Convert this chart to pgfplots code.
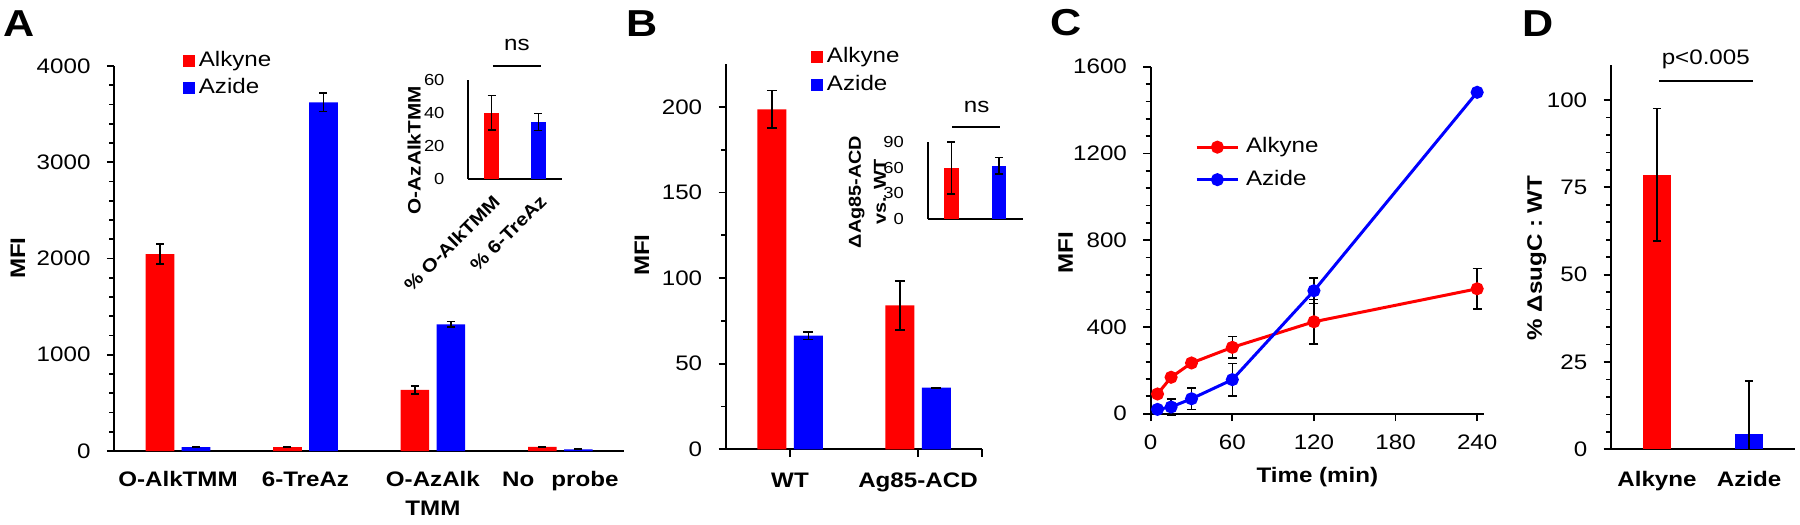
\documentclass[border=0pt]{standalone}
\usepackage{fontspec}
\setmainfont{Liberation Sans}[FakeStretch=1.15]
\usepackage{pgfplots}
\pgfplotsset{compat=1.18}

\definecolor{myred}{RGB}{255,0,0}
\definecolor{myblue}{RGB}{0,0,255}

\newcommand{\fs}{\fontsize{8.4}{10}\selectfont}
\newcommand{\fsi}{\fontsize{6.4}{8}\selectfont}

\pgfplotsset{
  base/.style={
    scale only axis,
    axis x line*=bottom, axis y line*=left,
    axis line style={line width=0.7pt, black},
    tick style={black, line width=0.7pt},
    tick align=outside,
    major tick length=3pt, minor tick length=2pt,
    /pgf/number format/assume math mode=true,
    /pgf/number format/1000 sep={},
    scaled ticks=false,
    tick label style={font=\fs},
    yticklabel style={xshift=-3pt},
    clip=false,
    legend cell align=left,
  },
  inset/.style={
    tick style={draw=none},
    yticklabel style={font=\fsi, xshift=0pt},
    xtick=\empty,
  },
  barleg/.style={
    legend image code/.code={\fill[##1] (0pt,-2.4pt) rectangle (4.8pt,2.4pt);},
    legend style={draw=none, fill=none, inner sep=0pt, outer sep=0pt, font=\fs,
      row sep=0pt, anchor=north west,
      nodes={inner sep=1.5pt, text height=6.2pt, text depth=1.8pt}},
  },
  lineleg/.style={
    legend image code/.code={\draw[mark repeat=2,mark phase=2,##1] plot coordinates {(0pt,0pt) (8.35pt,0pt) (16.7pt,0pt)};},
    legend style={draw=none, fill=none, inner sep=0pt, outer sep=0pt, font=\fs,
      anchor=north west,
      nodes={inner sep=2.5pt, text height=6.2pt, text depth=1.8pt}},
  },
  errb/.style={error bars/.cd, y dir=both, y explicit,
    error bar style={draw=black, line width=0.6pt},
    error mark options={rotate=90, draw=black, mark size=#1, line width=0.6pt}},
}

\begin{document}
\begin{tikzpicture}
\path[use as bounding box] (0pt,0pt) rectangle (720pt,-209.6pt);

% ---------------- Panel A ----------------
\begin{axis}[base,
  at={(45.72pt,-180.4pt)}, anchor=south west,
  width=203.9pt, height=154pt,
  ybar=2.96pt, bar width=11.44pt,
  xmin=-0.5, xmax=3.5, ymin=0, ymax=4000,
  ytick={0,1000,2000,3000,4000}, minor y tick num=4,
  xtick={0,1,2,3},
  xticklabels={O-AlkTMM,6-TreAz,{O-AzAlk\\TMM},No\hspace{6.8pt}probe},
  major x tick style={draw=none},
  xticklabel style={font=\bfseries\fontsize{8.4}{11.6}\selectfont, align=center, anchor=north, yshift=-1.6pt},
  ylabel={MFI}, ylabel style={font=\bfseries\fs, at={(axis description cs:-0.189,0.501)}, anchor=center},
  barleg,
  legend style={at={(axis description cs:0.135,1.05)}},
]
\addplot[fill=myred, draw=none, errb=1.6pt]
  coordinates {(0,2045) +- (0,104) (1,40) +- (0,5) (2,634) +- (0,43) (3,42) +- (0,5)};
\addplot[fill=myblue, draw=none, errb=1.6pt]
  coordinates {(0,40) +- (0,5) (1,3623) +- (0,98) (2,1316) +- (0,30) (3,18) +- (0,4)};
\legend{Alkyne,Azide}
\end{axis}

% ---------------- Panel A inset ----------------
\begin{axis}[base, inset,
  at={(187.32pt,-71.6pt)}, anchor=south west,
  width=37.36pt, height=39.6pt,
  xmin=-0.5, xmax=1.5, ymin=0, ymax=60,
  ytick={0,20,40,60},
  ylabel={O-AzAlkTMM}, ylabel style={font=\bfseries\fontsize{7.2}{8}\selectfont, at={(axis description cs:-0.58,0.29)}, anchor=center},
]
\addplot[ybar, bar width=5.9pt, bar shift=0pt, fill=myred, draw=none, errb=1.6pt]
  coordinates {(0,40.2) +- (0,10.5)};
\addplot[ybar, bar width=5.9pt, bar shift=0pt, fill=myblue, draw=none, errb=1.6pt]
  coordinates {(1,34.5) +- (0,5.2)};
\node[font=\bfseries\fontsize{7.2}{8}\selectfont, rotate=45, anchor=east, inner sep=0pt]
  at ([xshift=2.1pt,yshift=-7.6pt]axis cs:0,0) {\% O-AlkTMM};
\node[font=\bfseries\fontsize{7.2}{8}\selectfont, rotate=45, anchor=east, inner sep=0pt]
  at ([xshift=2.1pt,yshift=-7.6pt]axis cs:1,0) {\% 6-TreAz};
\draw[line width=0.7pt] (rel axis cs:0.264,1.141) -- (rel axis cs:0.778,1.141);
\node[font=\fs] at (rel axis cs:0.521,1.354) {ns};
\end{axis}

% ---------------- Panel B ----------------
\begin{axis}[base,
  at={(290.4pt,-179.72pt)}, anchor=south west,
  width=102.4pt, height=154.1pt,
  ybar=3pt, bar width=11.6pt,
  xmin=-0.5, xmax=1.5, ymin=0, ymax=225,
  ytick={0,50,100,150,200}, minor y tick num=1,
  xtick={0,1}, xticklabels={WT,Ag85-ACD},
  extra x ticks={1.5}, extra x tick labels={},
  xticklabel style={font=\bfseries\fs, anchor=north, yshift=-3pt},
  ylabel={MFI}, ylabel style={font=\bfseries\fs, at={(axis description cs:-0.329,0.504)}, anchor=center},
  barleg,
  legend style={at={(axis description cs:0.332,1.055)}, nodes={inner sep=1.6pt}},
]
\addplot[fill=myred, draw=none, errb=2pt]
  coordinates {(0,198.6) +- (0,11) (1,84) +- (0,14.3)};
\addplot[fill=myblue, draw=none, errb=2pt]
  coordinates {(0,66.4) +- (0,2.2) (1,36) +- (0,0.2)};
\legend{Alkyne,Azide}
\end{axis}

% ---------------- Panel B inset ----------------
\begin{axis}[base, inset,
  at={(371.08pt,-87.72pt)}, anchor=south west,
  width=38pt, height=31.04pt,
  xmin=-0.5, xmax=1.5, ymin=0, ymax=90,
  ytick={0,30,60,90},
  ylabel={ΔAg85-ACD\\vs. WT}, ylabel style={font=\bfseries\fontsize{6.9}{10}\selectfont, align=center, at={(axis description cs:-0.635,0.352)}, anchor=center},
]
\addplot[ybar, bar width=5.8pt, bar shift=0pt, fill=myred, draw=none, errb=1.6pt]
  coordinates {(0,59.5) +- (0,30)};
\addplot[ybar, bar width=5.8pt, bar shift=0pt, fill=myblue, draw=none, errb=1.6pt]
  coordinates {(1,62.3) +- (0,9.5)};
\draw[line width=0.7pt] (rel axis cs:0.256,1.186) -- (rel axis cs:0.761,1.186);
\node[font=\fs] at (rel axis cs:0.516,1.451) {ns};
\end{axis}

% ---------------- Panel C ----------------
\begin{axis}[base, lineleg,
  at={(460.28pt,-165.48pt)}, anchor=south west,
  width=133.3pt, height=138.8pt,
  xmin=0, xmax=245, ymin=0, ymax=1600,
  xtick={0,60,120,180,240}, ytick={0,400,800,1200,1600}, minor y tick num=4,
  xticklabel style={yshift=-2pt},
  xlabel={Time (min)}, xlabel style={font=\bfseries\fs},
  ylabel={MFI}, ylabel style={font=\bfseries\fs, at={(axis description cs:-0.255,0.463)}, anchor=center},
  legend style={at={(axis description cs:0.133,0.815)}},
]
\addplot[myred, line width=1.2pt, mark=*, mark size=2pt, mark options={solid, fill=myred, draw=myred}, errb=1.8pt]
  coordinates {(5,91) +- (0,6) (15,168) +- (0,6) (30,234) +- (0,6) (60,306) +- (0,49) (120,424) +- (0,103) (240,576) +- (0,93)};
\addplot[myblue, line width=1.2pt, mark=*, mark size=2pt, mark options={solid, fill=myblue, draw=myblue}, errb=1.8pt]
  coordinates {(5,20) +- (0,6) (15,31) +- (0,37) (30,69) +- (0,50) (60,157) +- (0,75) (120,567) +- (0,59) (240,1482) +- (0,0)};
\legend{Alkyne,Azide}
\end{axis}

% ---------------- Panel D ----------------
\begin{axis}[base,
  at={(644.4pt,-179.72pt)}, anchor=south west,
  width=73.6pt, height=153.7pt,
  xmin=-0.5, xmax=1.5, ymin=0, ymax=110,
  ytick={0,25,50,75,100}, minor y tick num=4,
  xtick={0,1}, xticklabels={Alkyne,Azide},
  major x tick style={draw=none},
  xticklabel style={font=\bfseries\fs, anchor=north, yshift=-2.4pt},
  ylabel={\% ΔsugC : WT}, ylabel style={font=\bfseries\fs, at={(axis description cs:-0.404,0.498)}, anchor=center},
]
\addplot[ybar, bar width=11.2pt, bar shift=0pt, fill=myred, draw=none, errb=1.7pt]
  coordinates {(0,78.6) +- (0,19)};
\addplot[ybar, bar width=11.2pt, bar shift=0pt, fill=myblue, draw=none, errb=1.7pt]
  coordinates {(1,4.5) += (0,15.1) -= (0,4.5)};
\draw[line width=0.7pt] (rel axis cs:0.261,0.959) -- (rel axis cs:0.772,0.959);
\node[font=\fs] at (rel axis cs:0.515,1.015) {p<0.005};
\end{axis}

% panel letters
\node[font=\bfseries\fontsize{15}{15}\selectfont] at (7.8pt,-9.4pt) {A};
\node[font=\bfseries\fontsize{15}{15}\selectfont] at (256.8pt,-9.4pt) {B};
\node[font=\bfseries\fontsize{15}{15}\selectfont] at (426.6pt,-9pt) {C};
\node[font=\bfseries\fontsize{15}{15}\selectfont] at (615.4pt,-9.4pt) {D};
\end{tikzpicture}
\end{document}
